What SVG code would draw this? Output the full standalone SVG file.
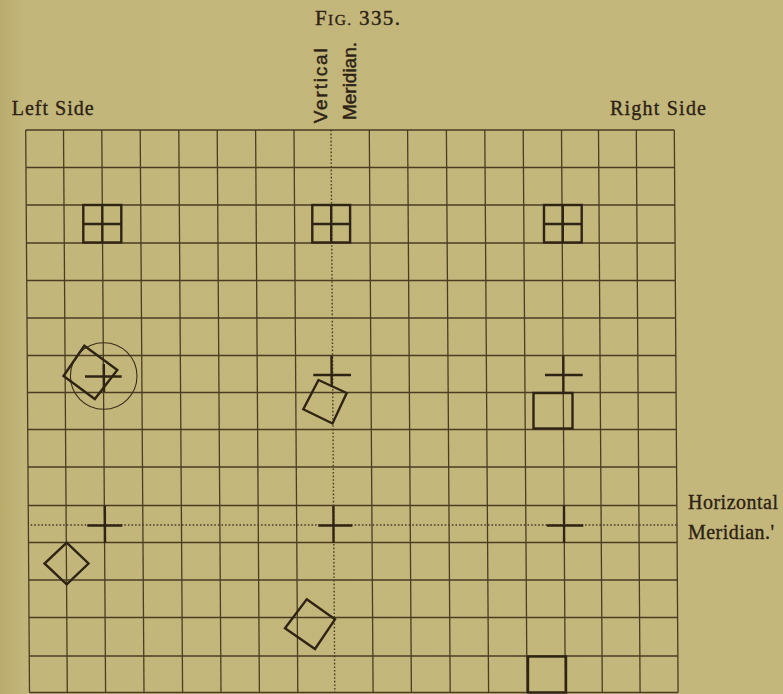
<svg xmlns="http://www.w3.org/2000/svg" width="783" height="694" viewBox="0 0 783 694">
  <defs>
    <linearGradient id="paper" x1="0" y1="0" x2="1" y2="0">
      <stop offset="0" stop-color="#b8ab6c"/>
      <stop offset="0.03" stop-color="#c3b67a"/>
      <stop offset="1" stop-color="#c4b77b"/>
    </linearGradient>
  </defs>
  <style>
    .grid { stroke: #4a3d24; stroke-width: 1.3; fill: none; }
    .dot { stroke: #4a3d24; stroke-width: 1.4; stroke-dasharray: 1.6 2; fill: none; }
    .fig { stroke: #2f2414; stroke-width: 2.4; fill: none; stroke-linejoin: miter; }
    .thin { stroke: #3a2e1a; stroke-width: 1.1; fill: none; }
    .serif { font-family: "Liberation Serif", "Times New Roman", serif; fill: #2c2214; stroke: #2c2214; stroke-width: 0.35; }
    .sans { font-family: "Liberation Sans", Arial, sans-serif; fill: #2c2214; stroke: #2c2214; stroke-width: 0.45; }
  </style>
  <rect x="0" y="0" width="783" height="694" fill="url(#paper)"/>

  <!-- Texts -->
  <g id="title">
    <text class="serif" x="315" y="25" font-size="21" textLength="85" lengthAdjust="spacing" stroke-width="0.2">F<tspan font-size="15.5">IG.</tspan> 335.</text>
  </g>
  <g id="label-left">
    <text class="serif" x="11.7" y="115" font-size="20" textLength="82" lengthAdjust="spacing">Left Side</text>
  </g>
  <g id="label-right">
    <text class="serif" x="610" y="115" font-size="20" textLength="96" lengthAdjust="spacing">Right Side</text>
  </g>
  <g id="label-vertical">
    <text class="sans" font-size="19" transform="translate(326.7 123.3) rotate(-90)" textLength="75" lengthAdjust="spacing">Vertical</text>
    <text class="sans" font-size="19" transform="translate(356 120) rotate(-90)" textLength="78" lengthAdjust="spacing">Meridian.</text>
  </g>
  <g id="label-horizontal">
    <text class="serif" x="688" y="509.3" font-size="20" textLength="90" lengthAdjust="spacing">Horizontal</text>
    <text class="serif" x="688" y="539" font-size="20" textLength="86" lengthAdjust="spacing">Meridian.'</text>
  </g>

  <!-- Grid (slightly skewed like the print) -->
  <g id="grid" transform="matrix(1 0 0.00676 1 -0.879 0)">
    <g class="grid">
      <line x1="25.7" y1="130" x2="25.7" y2="692.5"/>
      <line x1="63.5" y1="130" x2="63.5" y2="692.5"/>
      <line x1="101.8" y1="130" x2="101.8" y2="692.5"/>
      <line x1="140.2" y1="130" x2="140.2" y2="692.5"/>
      <line x1="178.8" y1="130" x2="178.8" y2="692.5"/>
      <line x1="217.2" y1="130" x2="217.2" y2="692.5"/>
      <line x1="255.6" y1="130" x2="255.6" y2="692.5"/>
      <line x1="294" y1="130" x2="294" y2="692.5"/>
      <line x1="369.3" y1="130" x2="369.3" y2="692.5"/>
      <line x1="407.6" y1="130" x2="407.6" y2="692.5"/>
      <line x1="446.4" y1="130" x2="446.4" y2="692.5"/>
      <line x1="484.8" y1="130" x2="484.8" y2="692.5"/>
      <line x1="523.2" y1="130" x2="523.2" y2="692.5"/>
      <line x1="561.5" y1="130" x2="561.5" y2="692.5"/>
      <line x1="598.5" y1="130" x2="598.5" y2="692.5"/>
      <line x1="636.3" y1="130" x2="636.3" y2="692.5"/>
      <line x1="674.3" y1="130" x2="674.3" y2="692.5"/>

      <line x1="25.7" y1="130" x2="674.3" y2="130"/>
      <line x1="25.7" y1="167.5" x2="674.3" y2="167.5"/>
      <line x1="25.7" y1="205" x2="674.3" y2="205"/>
      <line x1="25.7" y1="243" x2="674.3" y2="243"/>
      <line x1="25.7" y1="280.5" x2="674.3" y2="280.5"/>
      <line x1="25.7" y1="318" x2="674.3" y2="318"/>
      <line x1="25.7" y1="355.5" x2="674.3" y2="355.5"/>
      <line x1="25.7" y1="392.5" x2="674.3" y2="392.5"/>
      <line x1="25.7" y1="429.5" x2="674.3" y2="429.5"/>
      <line x1="25.7" y1="467" x2="674.3" y2="467"/>
      <line x1="25.7" y1="505.5" x2="674.3" y2="505.5"/>
      <line x1="25.7" y1="542.5" x2="674.3" y2="542.5"/>
      <line x1="25.7" y1="580" x2="674.3" y2="580"/>
      <line x1="25.7" y1="617.5" x2="674.3" y2="617.5"/>
      <line x1="25.7" y1="656" x2="674.3" y2="656"/>
      <line x1="25.7" y1="692.5" x2="674.3" y2="692.5"/>
    </g>
    <g id="meridians" class="dot">
      <line x1="331" y1="130" x2="331" y2="692.5"/>
      <line x1="28" y1="525" x2="674" y2="525"/>
    </g>
  </g>

  <!-- Figures -->
  <g id="box-top-left" class="fig">
    <rect x="83.3" y="205" width="38" height="37.5"/>
    <line x1="102.3" y1="205" x2="102.3" y2="242.5"/>
    <line x1="83.3" y1="224" x2="121.3" y2="224"/>
  </g>
  <g id="box-top-middle" class="fig">
    <rect x="312.3" y="205" width="37.8" height="37.5"/>
    <line x1="331.2" y1="205" x2="331.2" y2="242.5"/>
    <line x1="312.3" y1="224" x2="350.1" y2="224"/>
  </g>
  <g id="box-top-right" class="fig">
    <rect x="544" y="205" width="37.7" height="37.5"/>
    <line x1="562.8" y1="205" x2="562.8" y2="242.5"/>
    <line x1="544" y1="224" x2="581.7" y2="224"/>
  </g>

  <g id="cross-left-upper">
    <circle class="thin" cx="103.7" cy="376" r="33.3"/>
    <line class="fig" x1="85" y1="376.5" x2="121.7" y2="376.5" stroke-width="2"/>
    <line class="fig" x1="103.8" y1="364" x2="104" y2="392" stroke-width="2"/>
    <polygon class="fig" points="84.3,345.7 117.3,370 94.8,399 63.5,376"/>
  </g>
  <g id="cross-middle-upper">
    <line class="fig" x1="313.3" y1="375" x2="351" y2="375"/>
    <line class="fig" x1="331.5" y1="355.5" x2="331.7" y2="387"/>
    <polygon class="fig" points="318.5,380 346.7,393 332.5,423.5 303.3,409.3"/>
  </g>
  <g id="cross-right-upper">
    <line class="fig" x1="545" y1="375" x2="582.7" y2="375"/>
    <line class="fig" x1="563.3" y1="355.5" x2="563.4" y2="393"/>
    <rect class="fig" x="533.5" y="393" width="39" height="35.5"/>
  </g>

  <g id="cross-left-lower">
    <line class="fig" x1="87.3" y1="525.5" x2="122.3" y2="525.5" stroke-width="3"/>
    <line class="fig" x1="104.8" y1="505.5" x2="105" y2="542.7" stroke-width="2.6"/>
  </g>
  <g id="cross-middle-lower">
    <line class="fig" x1="318.3" y1="525.5" x2="352.3" y2="525.5" stroke-width="3"/>
    <line class="fig" x1="333.4" y1="506" x2="333.5" y2="542.7" stroke-width="2.6"/>
  </g>
  <g id="cross-right-lower">
    <line class="fig" x1="546.7" y1="525.5" x2="583.3" y2="525.5" stroke-width="3"/>
    <line class="fig" x1="564" y1="505.5" x2="564.1" y2="542.7" stroke-width="2.6"/>
  </g>

  <g id="diamond-left">
    <polygon class="fig" points="66.7,542.7 88.5,563.5 66.7,584.3 44.5,563.5"/>
  </g>
  <g id="square-bottom-middle">
    <polygon class="fig" points="306.7,599.3 335,619.3 315,649 285,628.3"/>
  </g>
  <g id="square-bottom-right">
    <rect class="fig" x="528" y="656.5" width="38" height="36"/>
  </g>
</svg>
